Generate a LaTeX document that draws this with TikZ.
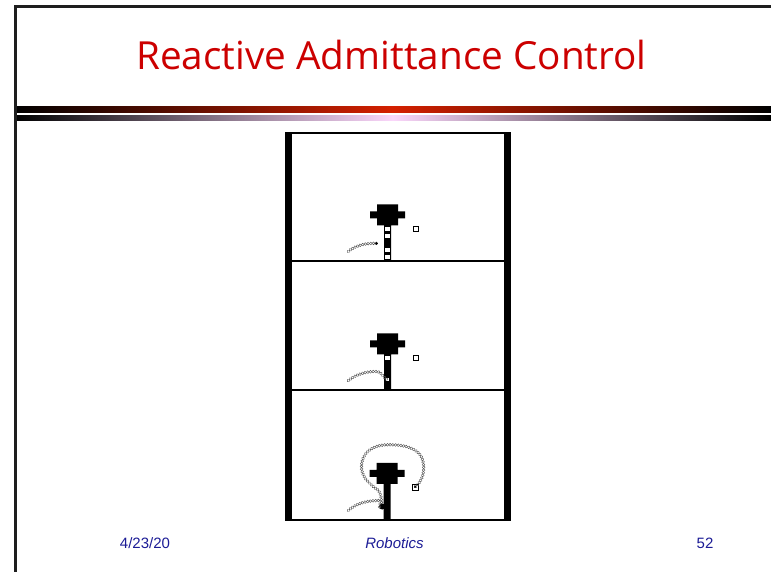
\documentclass[tikz,border=0pt]{standalone}
\usepackage{fontspec}
\setmainfont{Liberation Sans}
\newfontfamily\titlefont{Open Sans}
\usetikzlibrary{decorations.markings}

\definecolor{titlered}{RGB}{204,0,0}
\definecolor{footblue}{RGB}{28,28,150}
\definecolor{barred}{RGB}{212,32,0}
\definecolor{barpink}{RGB}{250,214,250}
\definecolor{framegray}{RGB}{30,30,30}
\definecolor{linkgray}{RGB}{80,80,80}

\tikzset{
  % robot: head cross plus pole, origin at the top centre of the head
  robot/.pic={
    \fill[black] (-10.5,0) -- (10.5,0) -- (10.5,7) -- (17.5,7) -- (17.5,14)
      -- (10.5,14) -- (10.5,21) -- (3.5,21) -- (3.5,56) -- (-3.5,56)
      -- (-3.5,21) -- (-10.5,21) -- (-10.5,14) -- (-17.5,14) -- (-17.5,7)
      -- (-10.5,7) -- cycle;
  },
  polesq/.style={fill=white},
  target/.style={draw=black, fill=white, line width=0.6pt},
  linkchain/.style={decorate, decoration={markings,
      mark=between positions 0 and 1 step 2.7pt with
      {\draw[linkgray, line width=0.4pt] (0,0) circle[radius=1.4pt];}}},
  thinrule/.style={draw=black, line width=2pt},
  footer/.style={text=footblue, font=\fontsize{15}{18}\selectfont, anchor=base},
}

\begin{document}
\begin{tikzpicture}[x=1pt,y=-1pt]
\useasboundingbox[fill=white] (0,0) rectangle (771,572);

% title
\node[text=titlered, font=\titlefont\fontsize{38.7}{44}\selectfont, anchor=base]
  (title) at (391.5,70) {Reactive Admittance Control};

% header rules
\shade[left color=black, right color=black, middle color=barred]
  (14,107) rectangle (771,113);
\shade[left color=black, right color=black, middle color=barpink]
  (14,115.5) rectangle (771,120.5);

% slide border
\draw[framegray, line width=3pt] (15.5,572) -- (15.5,7) -- (771,7);
\draw[framegray, line width=2.2pt] (14,7) -- (771,7);

% figure frame: side posts, top, floors
\fill[black] (285,132) rectangle (292,521);
\fill[black] (503.5,132) rectangle (511,521);
\draw[thinrule] (285,133) -- (511,133);
\draw[thinrule] (292,261) -- (503.5,261);
\draw[thinrule] (292,390) -- (503.5,390);
\draw[thinrule] (285,520) -- (511,520);

% panel 1
\pic at (387.5,204.3) {robot};
\fill[polesq] (385.3,226.6) rectangle ++(4.4,4.2);
\fill[polesq] (385.3,233.6) rectangle ++(4.4,4.2);
\fill[polesq] (385.3,247.6) rectangle ++(4.4,4.2);
\fill[polesq] (385.3,254.6) rectangle ++(4.4,4.2);
\draw[target] (412.8,226.2) rectangle (417.9,231.3);
\path[linkchain] (348.3,251.5) .. controls (355,245.5) and (366,243) .. (376.5,243.4);
\fill[black] (376.5,243.4) circle[radius=1.4pt];

% panel 2
\pic at (387.5,333.3) {robot};
\fill[polesq] (385.3,355.6) rectangle ++(4.4,4.2);
\draw[black, fill=white, line width=0.5pt] (385.1,376.9) rectangle ++(4.6,4.4);
\draw[target] (412.8,355.2) rectangle (417.9,360.3);
\path[linkchain] (348.3,380.7) .. controls (356,374) and (368,371) .. (377,371.6)
  .. controls (382,372.2) and (383,377) .. (386.6,379.2);

% panel 3
\pic at (387.2,462.8) {robot};
\draw[target] (412.4,484.3) rectangle (418.3,490.3);
\fill[black] (414.4,486.3) rectangle ++(2,2);
\path[linkchain] (348.3,510.5) .. controls (356,503.5) and (367,500.5) .. (379.5,500.5);
\path[linkchain] (415.5,486.5) .. controls (424,480) and (426,466) .. (421,456)
  .. controls (414,446) and (400,444.5) .. (386,444.8)
  .. controls (372,445.5) and (362,453) .. (361.5,466)
  .. controls (361,478) and (372,486) .. (378,490)
  .. controls (381,494) and (381.5,499) .. (381.5,503);
\fill[black] (382.2,506.5) circle[radius=3pt];
\draw[linkgray, line width=0.4pt] (380,504) circle[radius=1.4pt]
  (379.5,507) circle[radius=1.4pt];

% footer
\node[footer] (date) at (145,548) {4/23/20};
\node[footer, font=\fontsize{15}{18}\selectfont\itshape] (subject) at (394.5,548) {Robotics};
\node[footer] (pagenum) at (705,548) {52};
\end{tikzpicture}
\end{document}
